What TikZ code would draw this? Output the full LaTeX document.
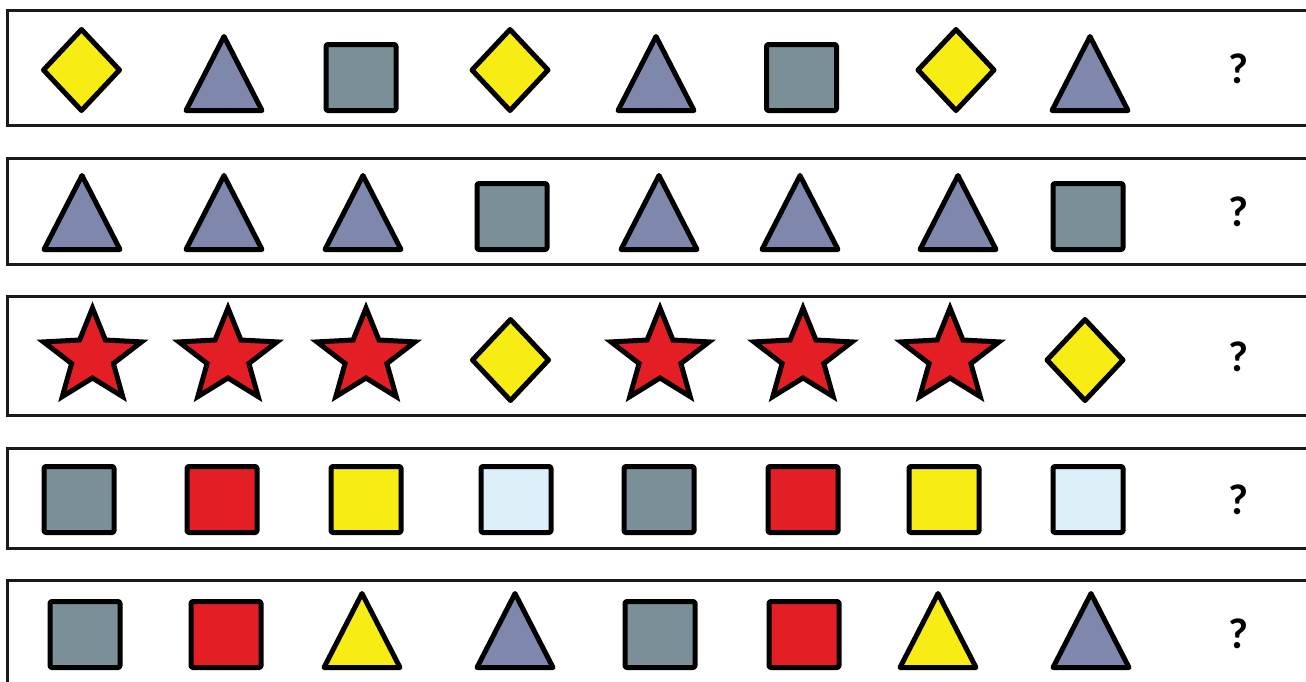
\documentclass[tikz,border=0pt]{standalone}
\usepackage{fontspec}
\newfontfamily\qfont{Carlito}
\definecolor{cyellow}{HTML}{F7EC13}
\definecolor{ctri}{HTML}{7F87AD}
\definecolor{csq}{HTML}{7A8F98}
\definecolor{cred}{HTML}{E31E24}
\definecolor{clight}{HTML}{DDF0FA}
\tikzset{
  shp/.style={draw=black, line width=5pt, line join=round},
  rowbox/.style={draw=black!90, line width=3pt},
  qmark/.style={inner sep=0pt, font=\qfont\bfseries\fontsize{43}{43}\selectfont},
  pics/diam/.style={code={\path[shp,fill=cyellow] (0,-2.5)--(38,-43)--(0,-83.5)--(-38,-43)--cycle;}},
  pics/tri/.style={code={\path[shp,fill=#1] (-38,-2.5)--(38,-2.5)--(0,-76.5)--cycle;}},
  pics/sq/.style={code={\path[shp,fill=#1,rounded corners=1.5pt] (-35,-2.5) rectangle (35,-68.5);}},
  pics/starshape/.style={code={\path[shp,line join=miter,fill=cred]
     (0,-95)--(-12.9,-63)--(-49,-61.1)--(-20.9,-39.5)--(-30.2,-6.4)--(0,-25)
     --(30.2,-6.4)--(20.9,-39.5)--(49,-61.1)--(12.9,-63)--cycle;}},
}
\begin{document}
\begin{tikzpicture}[x=1pt,y=-1pt]
\useasboundingbox (0,0) rectangle (1306,681);
\clip (0,0) rectangle (1306,681);
\fill[white] (0,0) rectangle (1306,681);
% row boxes
\draw[rowbox] (1320,10) -- (7,10) -- (7,125.5) -- (1320,125.5);
\draw[rowbox] (1320,158) -- (7,158) -- (7,264) -- (1320,264);
\draw[rowbox] (1320,296) -- (7,296) -- (7,415) -- (1320,415);
\draw[rowbox] (1320,448) -- (7,448) -- (7,548) -- (1320,548);
\draw[rowbox] (1320,580.5) -- (7,580.5) -- (7,684) -- (1320,684);
% row 1
\pic at (81.5,113) {diam};
\pic at (224,113) {tri=ctri};
\pic at (361,113) {sq=csq};
\pic at (510,113) {diam};
\pic at (656,113) {tri=ctri};
\pic at (801.5,113) {sq=csq};
\pic at (956,113) {diam};
\pic at (1090,113) {tri=ctri};
\node[qmark] (q1) at (1238,69) {?};
% row 2
\pic at (82,252) {tri=ctri};
\pic at (224,252) {tri=ctri};
\pic at (363,252) {tri=ctri};
\pic at (512,252) {sq=csq};
\pic at (659,252) {tri=ctri};
\pic at (800,252) {tri=ctri};
\pic at (958,252) {tri=ctri};
\pic at (1088,252) {sq=csq};
\node[qmark] (q2) at (1238,212) {?};
% row 3
\pic at (92.5,403) {starshape};
\pic at (228,403) {starshape};
\pic at (366,403) {starshape};
\pic at (510.5,403) {diam};
\pic at (660,403) {starshape};
\pic at (803,403) {starshape};
\pic at (950,403) {starshape};
\pic at (1085,403) {diam};
\node[qmark] (q3) at (1238,357) {?};
% row 4
\pic at (79,535) {sq=csq};
\pic at (222,535) {sq=cred};
\pic at (366,535) {sq=cyellow};
\pic at (516,535) {sq=clight};
\pic at (659,535) {sq=csq};
\pic at (803,535) {sq=cred};
\pic at (944,535) {sq=cyellow};
\pic at (1088,535) {sq=clight};
\node[qmark] (q4) at (1238,500) {?};
% row 5
\pic at (85,670) {sq=csq};
\pic at (226,670) {sq=cred};
\pic at (362,670) {tri=cyellow};
\pic at (515,670) {tri=ctri};
\pic at (660,670) {sq=csq};
\pic at (804,670) {sq=cred};
\pic at (938,670) {tri=cyellow};
\pic at (1091,670) {tri=ctri};
\node[qmark] (q5) at (1238,634) {?};
\end{tikzpicture}
\end{document}
